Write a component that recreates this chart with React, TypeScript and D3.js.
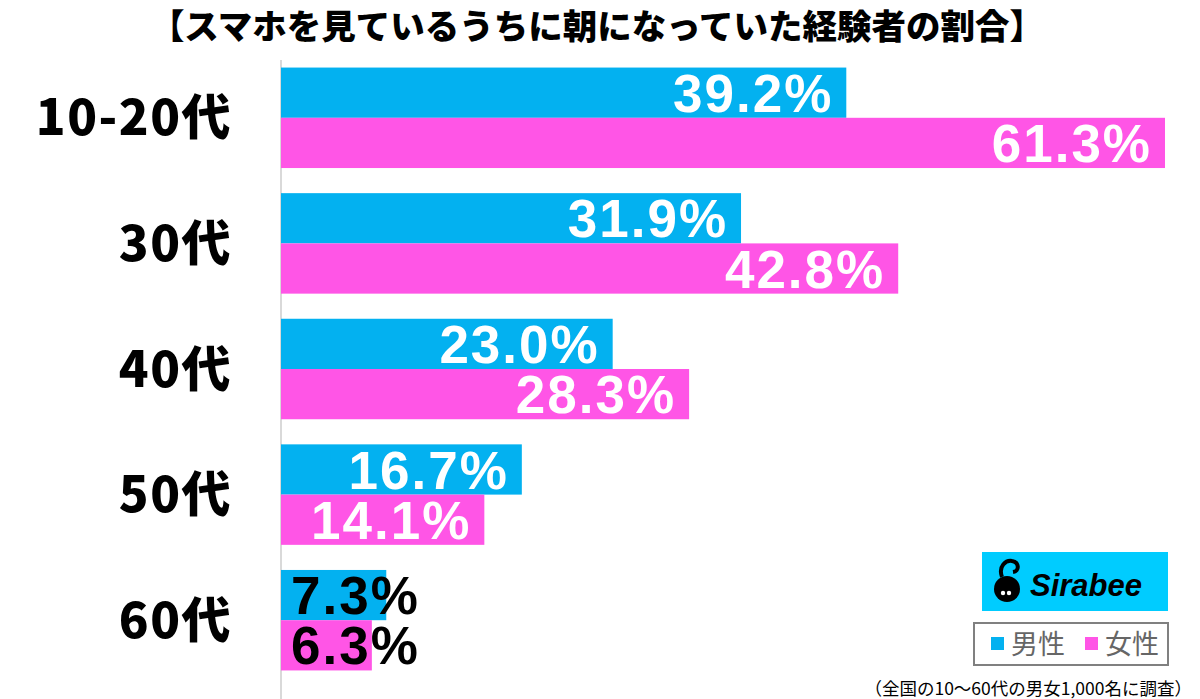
import React from "react";
import * as d3 from "d3";

const categories = ["10-20代", "30代", "40代", "50代", "60代"];
const male = [39.2, 31.9, 23.0, 16.7, 7.3];
const female = [61.3, 42.8, 28.3, 14.1, 6.3];
const seriesNames = ["男性", "女性"];
const colors = ["#03B1F0", "#FF55E6"];

const title = "【スマホを見ているうちに朝になっていた経験者の割合】";
const note = "（全国の10〜60代の男女1,000名に調査）";

const width = 1200;
const height = 699;
const left = 281;

export default function App() {
  const x = d3.scaleLinear().domain([0, 61.3]).range([left, 1165]);
  const y = d3.scaleBand().domain(categories).range([55, 683]).paddingInner(0.2).paddingOuter(0.1);
  const inner = d3.scaleBand().domain(seriesNames).range([0, y.bandwidth()]);

  const numFont = "'Liberation Sans', Arial, sans-serif";
  const jpFont = "'Noto Sans CJK JP', sans-serif";

  return (
    <svg width={width} height={height} style={{ position: "absolute", left: 0, top: 0 }}>
      <rect width={width} height={height} fill="#fff" />
      <text x={597} y={39} textAnchor="middle" fontFamily={jpFont} fontWeight={900} fontSize={34.5}
        fill="#000">
        {title}
      </text>
      <line x1={left} x2={left} y1={60} y2={height} stroke="#d9d9d9" strokeWidth={2} />
      {categories.map((c, i) => {
        const y0 = y(c)!;
        return (
          <g key={c}>
            <text x={232} y={y0 + y.bandwidth() / 2} dy="0.36em" textAnchor="end"
              fontFamily={jpFont} fontWeight={900} fontSize={49} letterSpacing={1.5} fill="#000">
              {c}
            </text>
            {[male[i], female[i]].map((v, j) => {
              const by = y0 + inner(seriesNames[j])!;
              const w = x(v) - left;
              const inside = w > 180;
              return (
                <g key={j}>
                  <rect x={left} y={by} width={w} height={inner.bandwidth()} fill={colors[j]} />
                  <text x={inside ? x(v) - 13 : left + 10} y={by + inner.bandwidth() / 2} dy="0.36em"
                    textAnchor={inside ? "end" : "start"} fontFamily={numFont} fontWeight={900}
                    fontSize={53} letterSpacing={2} fill={inside ? "#fff" : "#000"}>
                    {v.toFixed(1)}%
                  </text>
                </g>
              );
            })}
          </g>
        );
      })}
      <g>
        <rect x={982} y={552} width={186} height={59} fill="#00CCFF" />
        <circle cx={1007} cy={589} r={13} fill="#000" />
        <path d="M1002,577 C998,566 1006,560 1012,561 C1019,562 1020,571 1013,572" fill="none" stroke="#000" strokeWidth={4} />
        <circle cx={1003} cy={593} r={2.2} fill="#fff" />
        <circle cx={1009} cy={593} r={2.2} fill="#fff" />
        <text x={1030} y={596} fontFamily={numFont} fontWeight={700} fontStyle="italic" fontSize={31} fill="#000">
          Sirabee
        </text>
      </g>
      <g>
        <rect x={974} y={623} width={194} height={42} fill="#fff" stroke="#808080" strokeWidth={2} />
        {seriesNames.map((s, j) => (
          <g key={s}>
            <rect x={991 + j * 94} y={637} width={13} height={13} fill={colors[j]} />
            <text x={1011 + j * 94} y={644} dy="0.36em" fontFamily={jpFont} fontSize={27} fill="#666">
              {s}
            </text>
          </g>
        ))}
      </g>
      <text x={1192} y={695} textAnchor="end" fontFamily={jpFont} fontSize={17.5} fill="#000">
        {note}
      </text>
    </svg>
  );
}
